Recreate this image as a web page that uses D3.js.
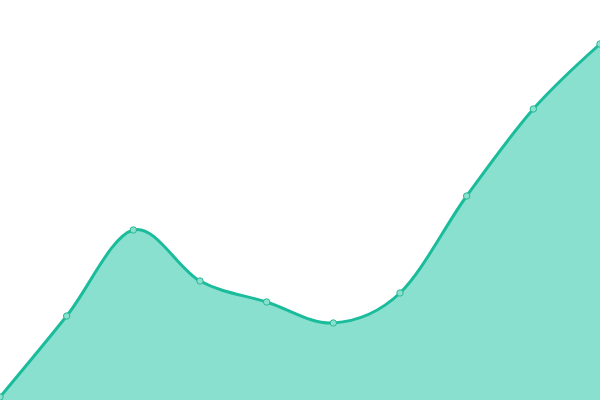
<!DOCTYPE html>
<html>
<head>
<meta charset="utf-8">
<script src="https://cdn.jsdelivr.net/npm/d3@7"></script>
<style>
  body { margin: 0; background: #fff; }
  svg { display: block; }
</style>
</head>
<body>
<svg id="chart" width="600" height="400"></svg>
<script>
// data
let labels = ["1", "2", "3", "4", "5", "6", "7", "8", "9", "10"];
let values = [3, 84, 170, 119, 98, 77, 107, 204, 291, 356];

const width = 600;
const height = 400;

let svg = d3.select("#chart");

// scales
let xScale = d3.scalePoint()
  .domain(labels)
  .range([0, width]);

let yScale = d3.scaleLinear()
  .domain([0, 400])
  .range([height, 0]);

let data = labels.map((l, i) => ({ label: l, value: values[i] }));

let area = d3.area()
  .x(d => xScale(d.label))
  .y0(height)
  .y1(d => yScale(d.value))
  .curve(d3.curveCardinal);

let line = d3.line()
  .x(d => xScale(d.label))
  .y(d => yScale(d.value))
  .curve(d3.curveCardinal);

svg.append("path")
  .datum(data)
  .attr("d", area)
  .attr("fill", "#8ae0cf");

svg.append("path")
  .datum(data)
  .attr("d", line)
  .attr("fill", "none")
  .attr("stroke", "#1abc9c")
  .attr("stroke-width", 3);

// point markers
svg.selectAll("circle")
  .data(data)
  .enter()
  .append("circle")
  .attr("cx", d => xScale(d.label))
  .attr("cy", d => yScale(d.value))
  .attr("r", 3.2)
  .attr("fill", "#8ae0cf")
  .attr("stroke", "#2ab795")
  .attr("stroke-width", 1);
</script>
</body>
</html>
